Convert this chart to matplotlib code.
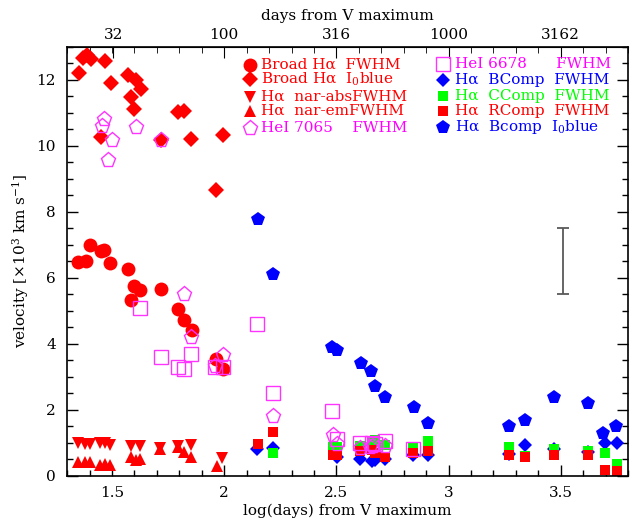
import numpy as np
import matplotlib
matplotlib.use('Agg')
import matplotlib.pyplot as plt
from matplotlib.ticker import MultipleLocator

plt.rcParams['font.family'] = 'DejaVu Serif'
plt.rcParams['mathtext.fontset'] = 'dejavuserif'

##########################################################
#              Data                  #
##########################################################

# Broad H-alpha FWHM (red circles)
broad_fwhm_x = [1.350, 1.385, 1.402, 1.450, 1.465, 1.489, 1.573, 1.596, 1.625, 1.584,
                1.718, 1.796, 1.821, 1.856, 1.964, 1.994]
broad_fwhm_y = [6.48, 6.52, 7.00, 6.80, 6.85, 6.45, 6.27, 5.76, 5.64, 5.33,
                5.66, 5.05, 4.71, 4.42, 3.54, 3.23]

# Broad H-alpha I0 blue (red diamonds)
broad_blue_x = [1.353, 1.370, 1.388, 1.406, 1.469, 1.496, 1.573, 1.607, 1.628, 1.584,
                1.599, 1.450, 1.718, 1.796, 1.823, 1.853, 1.994, 1.964]
broad_blue_y = [12.20, 12.66, 12.76, 12.63, 12.58, 11.90, 12.15, 12.00, 11.72, 11.49,
                11.12, 10.28, 10.18, 11.01, 11.06, 10.20, 10.33, 8.67]

# H-alpha narrow absorption / emission FWHM
nar_abs_x = [1.350, 1.378, 1.402, 1.446, 1.468, 1.490, 1.584, 1.625, 1.716, 1.796, 1.850, 1.989]
nar_abs_y = [1.00, 0.96, 0.95, 1.00, 0.98, 0.94, 0.91, 0.89, 0.85, 0.90, 0.94, 0.55]
nar_em_x = [1.350, 1.378, 1.402, 1.446, 1.468, 1.490, 1.584, 1.607, 1.625, 1.716,
            1.796, 1.821, 1.850, 1.967]
nar_em_y = [0.43, 0.43, 0.43, 0.33, 0.36, 0.33, 0.58, 0.48, 0.50, 0.82,
            0.88, 0.72, 0.58, 0.30]

# HeI 7065 FWHM (open pentagons)
hei7065_x = [1.466, 1.455, 1.499, 1.484, 1.607, 1.718, 1.823, 1.853, 1.994, 1.960,
             2.217, 2.484, 2.502, 2.606, 2.650, 2.665, 2.717]
hei7065_y = [10.81, 10.61, 10.18, 9.58, 10.58, 10.18, 5.51, 4.20, 3.67, 3.33,
             1.82, 1.24, 0.96, 0.84, 0.87, 0.90, 0.89]

# HeI 6678 FWHM (open squares)
hei6678_x = [1.625, 1.718, 1.796, 1.821, 1.853, 1.960, 1.994, 2.146, 2.219, 2.482,
             2.502, 2.606, 2.658, 2.673, 2.717, 2.843]
hei6678_y = [5.08, 3.60, 3.29, 3.23, 3.70, 3.29, 3.29, 4.60, 2.51, 1.95,
             1.12, 0.98, 0.98, 0.96, 1.05, 0.82]

# H-alpha B/C/R components
bcomp_x = [2.148, 2.219, 2.502, 2.606, 2.658, 2.672, 2.717, 2.843, 2.906,
           3.267, 3.341, 3.470, 3.623, 3.697, 3.750]
bcomp_y = [0.81, 0.84, 0.58, 0.51, 0.46, 0.48, 0.51, 0.64, 0.64,
           0.66, 0.94, 0.81, 0.71, 0.99, 0.99]

ccomp_x = [2.150, 2.219, 2.484, 2.502, 2.606, 2.658, 2.672, 2.717, 2.843, 2.906,
           3.267, 3.341, 3.470, 3.623, 3.697, 3.750]
ccomp_y = [0.95, 0.69, 0.86, 0.88, 0.89, 0.99, 1.09, 0.94, 0.86, 1.06,
           0.87, 0.60, 0.80, 0.76, 0.69, 0.36]

rcomp_x = [2.150, 2.219, 2.484, 2.502, 2.606, 2.658, 2.672, 2.717, 2.843, 2.906,
           3.267, 3.341, 3.470, 3.623, 3.697, 3.750]
rcomp_y = [0.97, 1.32, 0.64, 0.64, 0.74, 0.77, 0.70, 0.57, 0.70, 0.74,
           0.64, 0.58, 0.64, 0.64, 0.18, 0.16]

# H-alpha Bcomp I0 blue (blue pentagons)
bcomp_blue_x = [2.150, 2.217, 2.482, 2.502, 2.609, 2.653, 2.670, 2.718, 2.845, 2.906,
                3.267, 3.341, 3.470, 3.623, 3.687, 3.746]
bcomp_blue_y = [7.78, 6.12, 3.90, 3.80, 3.41, 3.19, 2.71, 2.40, 2.10, 1.60,
                1.52, 1.70, 2.40, 2.20, 1.31, 1.52]

# typical error bar
errbar_x = [3.51]
errbar_y = [6.5]
errbar_err = [1.0]

top_days = [32, 100, 316, 1000, 3162]

##########################################################
#                        Plot                            #
##########################################################

RED = '#ff0000'
MAG = '#ff33ff'
MAG_TXT = '#ff00ff'
BLUE = '#0000ff'
GREEN = '#00ff00'

fig = plt.figure(figsize=(6.39, 5.2), dpi=100)
ax = fig.add_axes([0.105, 0.085, 0.878, 0.825])

ax.plot(bcomp_x, bcomp_y, 'D', color=BLUE, ms=7, mew=0)
ax.plot(ccomp_x, ccomp_y, 's', color=GREEN, ms=7, mew=0)
ax.plot(rcomp_x, rcomp_y, 's', color=RED, ms=7, mew=0)
ax.plot(bcomp_blue_x, bcomp_blue_y, 'p', color=BLUE, ms=10, mew=0)
ax.plot(broad_fwhm_x, broad_fwhm_y, 'o', color=RED, ms=10, mew=0)
ax.plot(broad_blue_x, broad_blue_y, 'D', color=RED, ms=8, mew=0)
ax.plot(nar_abs_x, nar_abs_y, 'v', color=RED, ms=9, mew=0)
ax.plot(nar_em_x, nar_em_y, '^', color=RED, ms=9, mew=0)
ax.plot(hei7065_x, hei7065_y, 'p', mfc='none', mec=MAG, ms=11, mew=1)
ax.plot(hei6678_x, hei6678_y, 's', mfc='none', mec=MAG, ms=10, mew=1)

ax.errorbar(errbar_x, errbar_y, yerr=errbar_err, fmt='none', ecolor='0.35',
            elinewidth=1.3, capsize=4, capthick=1.3)

ax.set_xlim(1.3, 3.8)
ax.set_ylim(0, 13)
ax.xaxis.set_major_locator(MultipleLocator(0.5))
ax.xaxis.set_minor_locator(MultipleLocator(0.1))
ax.yaxis.set_major_locator(MultipleLocator(2))
ax.yaxis.set_minor_locator(MultipleLocator(0.5))
ax.set_xticks([1.5, 2, 2.5, 3, 3.5], ['1.5', '2', '2.5', '3', '3.5'])
ax.tick_params(which='both', direction='in', right=True, labelsize=11)
ax.tick_params(which='major', length=8, width=1)
ax.tick_params(which='minor', length=4, width=1)
ax.tick_params(axis='x', pad=7)
ax.tick_params(axis='y', pad=8)
for sp in ax.spines.values():
    sp.set_linewidth(1.2)

ax.set_xlabel('log(days) from V maximum', fontsize=11, labelpad=3)
ax.set_ylabel(r'velocity [$\times$10$^3$ km s$^{-1}$]', fontsize=11, labelpad=4)

top = ax.secondary_xaxis('top')
top.set_xticks(np.log10(top_days), [str(d) for d in top_days])
top.xaxis.set_minor_locator(MultipleLocator(0.1))
top.tick_params(which='both', direction='in', labelsize=11)
top.tick_params(which='major', length=8)
top.tick_params(which='minor', length=4)
top.set_xlabel('days from V maximum', fontsize=11, labelpad=6)

# legend drawn by hand in two columns
left_col = [
    ('o', RED, RED, True, 10, 'Broad H\u03b1  FWHM'),
    ('D', RED, RED, True, 8, 'Broad H\u03b1  I$_0$blue'),
    ('v', RED, RED, True, 9, 'H\u03b1  nar-absFWHM'),
    ('^', RED, RED, True, 9, 'H\u03b1  nar-emFWHM'),
    ('p', MAG, MAG_TXT, False, 11, 'HeI 7065    FWHM'),
]
right_col = [
    ('s', MAG, MAG_TXT, False, 10, 'HeI 6678      FWHM'),
    ('D', BLUE, BLUE, True, 7, 'H\u03b1  BComp  FWHM'),
    ('s', GREEN, GREEN, True, 7, 'H\u03b1  CComp  FWHM'),
    ('s', RED, RED, True, 7, 'H\u03b1  RComp  FWHM'),
    ('p', BLUE, BLUE, True, 10, 'H\u03b1  Bcomp  I$_0$blue'),
]
left_rows = [0.958, 0.925, 0.883, 0.850, 0.811]
right_rows = [0.960, 0.923, 0.886, 0.851, 0.814]

for (m, c, tc, filled, ms, lab), yy in zip(left_col, left_rows):
    if filled:
        ax.plot([0.326], [yy], m, color=c, ms=ms, mew=0, transform=ax.transAxes, clip_on=False)
    else:
        ax.plot([0.326], [yy], m, mfc='none', mec=c, ms=ms, mew=1, transform=ax.transAxes, clip_on=False)
    ax.text(0.346, yy, lab, color=tc, fontsize=11, va='center', ha='left', transform=ax.transAxes)

for (m, c, tc, filled, ms, lab), yy in zip(right_col, right_rows):
    if filled:
        ax.plot([0.670], [yy], m, color=c, ms=ms, mew=0, transform=ax.transAxes, clip_on=False)
    else:
        ax.plot([0.670], [yy], m, mfc='none', mec=c, ms=ms, mew=1, transform=ax.transAxes, clip_on=False)
    ax.text(0.692, yy, lab, color=tc, fontsize=11, va='center', ha='left', transform=ax.transAxes)

fig.savefig('out.png', dpi=100)
